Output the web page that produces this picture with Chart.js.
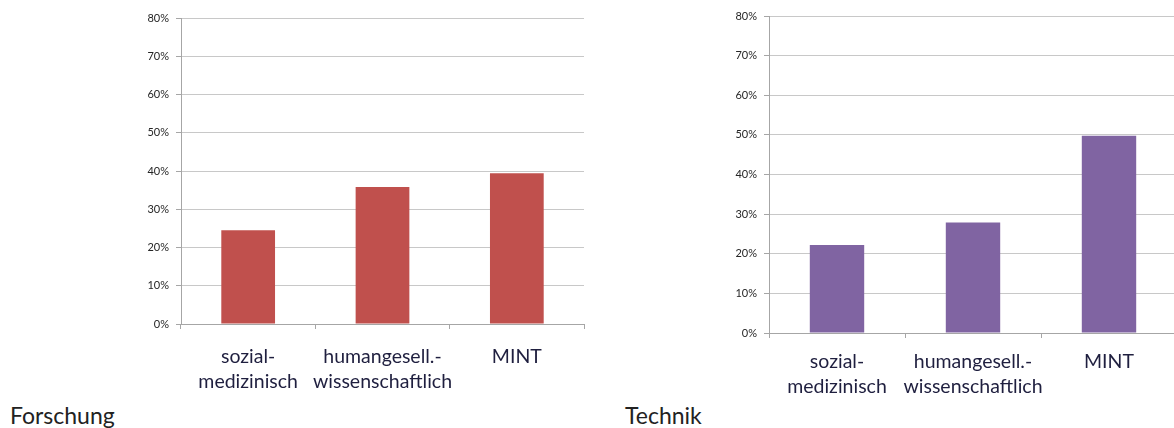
<!DOCTYPE html>
<html>
<head>
<meta charset="utf-8">
<script src="https://cdn.jsdelivr.net/npm/chart.js@4.4.0/dist/chart.umd.min.js"></script>
<style>
  body { margin: 0; width: 1174px; height: 428px; overflow: hidden; background: #fff; position: relative; font-family: Lato, sans-serif; }
  .box { position: absolute; }
  .caption { position: absolute; font-size: 23px; line-height: 28px; color: #222; font-family: Lato, sans-serif; }
</style>
</head>
<body>
<div class="box" style="left:130px; top:0; width:470px; height:400px;"><canvas id="forschung"></canvas></div>
<div class="box" style="left:720px; top:0; width:460px; height:410px;"><canvas id="technik"></canvas></div>
<div class="caption" style="left:10px; top:401px;">Forschung</div>
<div class="caption" style="left:625px; top:401px;">Technik</div>

<script>
// categories (two-line labels)
const categories = [
    ['sozial-', 'medizinisch'],
    ['humangesell.-', 'wissenschaftlich'],
    ['MINT']
];
// percent values
const forschungValues = [24.5, 35.8, 39.4];
const technikValues = [22.2, 27.9, 49.8];
// y axis ticks
const yMax = 80;
const yStep = 10;

function makeChart(id, values, color, box) {
    const ctx = document.getElementById(id);
    return new Chart(ctx, {
        type: 'bar',
        data: {
            labels: categories,
            datasets: [{
                data: values,
                backgroundColor: color,
                borderWidth: 0,
                categoryPercentage: 1,
                barPercentage: 0.4
            }]
        },
        options: {
            responsive: true,
            maintainAspectRatio: false,
            animation: false,
            layout: { padding: { top: box.top, right: box.right, left: 0, bottom: 0 } },
            plugins: { legend: { display: false }, tooltip: { enabled: false } },
            scales: {
                x: {
                    grid: { drawOnChartArea: false, drawTicks: true, tickLength: 5, color: '#a6a6a6', offset: true },
                    border: { color: '#a6a6a6', width: 1 },
                    ticks: {
                        color: '#1f1f3f',
                        font: { family: 'Lato', size: 19.5, lineHeight: 1.28 },
                        padding: box.lp,
                        maxRotation: 0,
                        autoSkip: false
                    },
                    afterFit: function (scale) { scale.height = box.xh; }
                },
                y: {
                    min: 0,
                    max: yMax,
                    ticks: {
                        stepSize: yStep,
                        color: '#262626',
                        font: { family: 'Lato', size: 11 },
                        padding: 7,
                        callback: v => v + '%'
                    },
                    grid: { color: '#c8c8c8', tickLength: 5, tickColor: '#a6a6a6' },
                    border: { color: '#a6a6a6', width: 1 },
                    afterFit: function (scale) { scale.width = box.yw; }
                }
            }
        }
    });
}

makeChart('forschung', forschungValues, '#c0504d', { top: 18, right: 16, xh: 76, yw: 51, lp: 15 });
makeChart('technik', technikValues, '#8064a2', { top: 16, right: 3, xh: 77, yw: 49, lp: 11 });
</script>
</body>
</html>
